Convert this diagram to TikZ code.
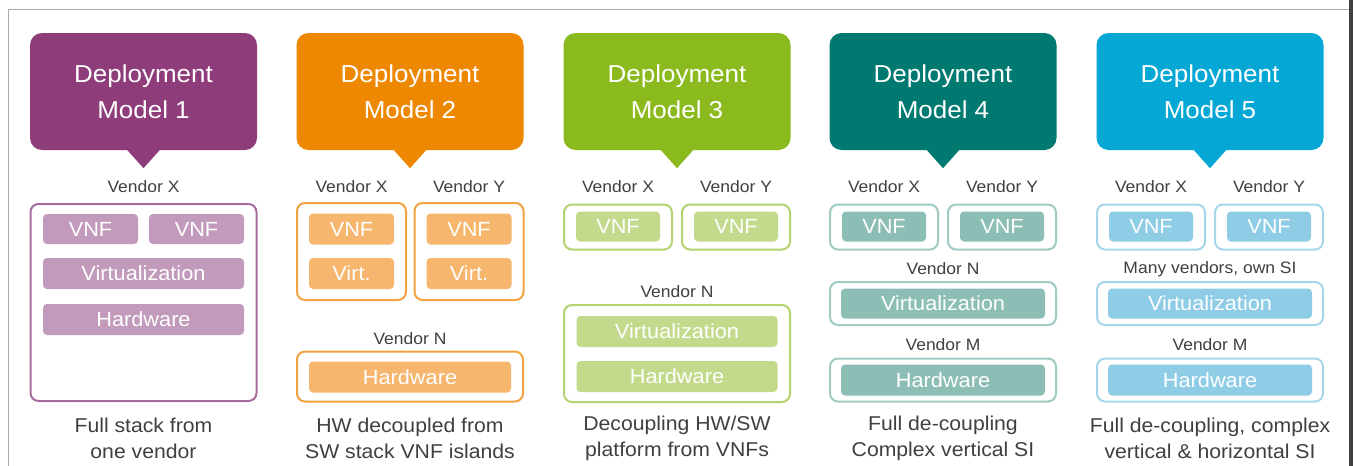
\documentclass[tikz,border=0pt]{standalone}
\usepackage{fontspec}
\setmainfont{Liberation Sans}[FakeStretch=1.06]
\usepackage{tikz}
\usepackage{xcolor}
\definecolor{labelgrey}{RGB}{64,64,64}
\definecolor{framegrey}{RGB}{170,170,170}
\definecolor{mOneDark}{RGB}{142,61,122}
\definecolor{mOneLight}{RGB}{194,155,188}
\definecolor{mOneLine}{RGB}{168,108,156}
\definecolor{mTwoDark}{RGB}{238,136,0}
\definecolor{mTwoLight}{RGB}{246,182,110}
\definecolor{mTwoLine}{RGB}{242,162,64}
\definecolor{mThreeDark}{RGB}{139,186,30}
\definecolor{mThreeLight}{RGB}{195,218,140}
\definecolor{mThreeLine}{RGB}{180,210,112}
\definecolor{mFourDark}{RGB}{0,122,113}
\definecolor{mFourLight}{RGB}{140,190,182}
\definecolor{mFourLine}{RGB}{158,202,196}
\definecolor{mFiveDark}{RGB}{5,168,212}
\definecolor{mFiveLight}{RGB}{143,204,230}
\definecolor{mFiveLine}{RGB}{165,214,236}

\tikzset{
  hdr/.style={fill=#1, rounded corners=12pt, inner sep=0pt, minimum width=227pt, minimum height=117pt,
    text=white, align=center, font=\fontsize{24.5}{36}\selectfont},
  stack/.style={draw=#1, line width=2pt, rounded corners=8pt, fill=white, inner sep=0pt},
  layer/.style={fill=#1, rounded corners=4pt, inner sep=0pt, text=white, font=\fontsize{20.5}{22}\selectfont},
  vendor/.style={text=labelgrey, inner sep=0pt, font=\fontsize{16.5}{20}\selectfont},
  caption/.style={text=labelgrey, align=center, inner sep=0pt, font=\fontsize{20}{26}\selectfont},
}

\begin{document}
\begin{tikzpicture}[x=1pt, y=-1pt]
  \fill[white] (0,0) rectangle (1353,466);
  \useasboundingbox (0,0) rectangle (1353,466);
  \draw[framegrey, line width=1pt] (8,466) -- (8,9) -- (1349,9);
  \fill[black!75] (1349,0) rectangle (1353,466);

  % model 1
  \node[hdr=mOneDark] (hdr1) at (143.5,91.5) {Deployment\\Model 1};
  \fill[mOneDark] ([xshift=-17pt,yshift=1pt]hdr1.south) -- ([yshift=-18pt]hdr1.south) -- ([xshift=17pt,yshift=1pt]hdr1.south) -- cycle;
  \node[vendor] (v1x) at (143.5,187) {Vendor X};
  \node[stack=mOneLine, minimum width=226pt, minimum height=197pt] (box1) at (143.5,302.5) {};
  \node[layer=mOneLight, minimum width=95pt, minimum height=30pt] (vnf1a) at (90.5,229) {VNF};
  \node[layer=mOneLight, minimum width=95pt, minimum height=30pt] (vnf1b) at (196.5,229) {VNF};
  \node[layer=mOneLight, minimum width=201pt, minimum height=31pt] (virt1) at (143.5,273.5) {Virtualization};
  \node[layer=mOneLight, minimum width=201pt, minimum height=31pt] (hw1) at (143.5,319.5) {Hardware};
  \node[caption] (cap1) at (143.5,438) {Full stack from\\one vendor};

  % model 2
  \node[hdr=mTwoDark] (hdr2) at (410,91.5) {Deployment\\Model 2};
  \fill[mTwoDark] ([xshift=-17pt,yshift=1pt]hdr2.south) -- ([yshift=-18pt]hdr2.south) -- ([xshift=17pt,yshift=1pt]hdr2.south) -- cycle;
  \node[vendor] (v2x) at (351.5,187) {Vendor X};
  \node[vendor] (v2y) at (469,187) {Vendor Y};
  \node[stack=mTwoLine, minimum width=109pt, minimum height=97pt] (box2a) at (351.5,251.5) {};
  \node[stack=mTwoLine, minimum width=109pt, minimum height=97pt] (box2b) at (469,251.5) {};
  \node[layer=mTwoLight, minimum width=85pt, minimum height=31pt] (vnf2a) at (351.5,229) {VNF};
  \node[layer=mTwoLight, minimum width=85pt, minimum height=31pt] (virt2a) at (351.5,273.5) {Virt.};
  \node[layer=mTwoLight, minimum width=85pt, minimum height=31pt] (vnf2b) at (469,229) {VNF};
  \node[layer=mTwoLight, minimum width=85pt, minimum height=31pt] (virt2b) at (469,273.5) {Virt.};
  \node[vendor] (v2n) at (410,339) {Vendor N};
  \node[stack=mTwoLine, minimum width=226pt, minimum height=50pt] (box2n) at (410,376.5) {};
  \node[layer=mTwoLight, minimum width=202pt, minimum height=31pt] (hw2) at (410,377) {Hardware};
  \node[caption] (cap2) at (410,438) {HW decoupled from\\SW stack VNF islands};

  % model 3
  \node[hdr=mThreeDark] (hdr3) at (677,91.5) {Deployment\\Model 3};
  \fill[mThreeDark] ([xshift=-17pt,yshift=1pt]hdr3.south) -- ([yshift=-18pt]hdr3.south) -- ([xshift=17pt,yshift=1pt]hdr3.south) -- cycle;
  \node[vendor] (v3x) at (618,187) {Vendor X};
  \node[vendor] (v3y) at (736,187) {Vendor Y};
  \node[stack=mThreeLine, minimum width=108pt, minimum height=45pt] (box3a) at (618,227) {};
  \node[stack=mThreeLine, minimum width=108pt, minimum height=45pt] (box3b) at (736,227) {};
  \node[layer=mThreeLight, minimum width=84pt, minimum height=30pt] (vnf3a) at (618,226.5) {VNF};
  \node[layer=mThreeLight, minimum width=84pt, minimum height=30pt] (vnf3b) at (736,226.5) {VNF};
  \node[vendor] (v3n) at (677,292) {Vendor N};
  \node[stack=mThreeLine, minimum width=226pt, minimum height=97pt] (box3n) at (677,353.5) {};
  \node[layer=mThreeLight, minimum width=201pt, minimum height=31pt] (virt3) at (677,331.5) {Virtualization};
  \node[layer=mThreeLight, minimum width=201pt, minimum height=31pt] (hw3) at (677,376.5) {Hardware};
  \node[caption] (cap3) at (677,438) {Decoupling HW/SW\\platform from VNFs};

  % model 4
  \node[hdr=mFourDark] (hdr4) at (943,91.5) {Deployment\\Model 4};
  \fill[mFourDark] ([xshift=-17pt,yshift=1pt]hdr4.south) -- ([yshift=-18pt]hdr4.south) -- ([xshift=17pt,yshift=1pt]hdr4.south) -- cycle;
  \node[vendor] (v4x) at (884,187) {Vendor X};
  \node[vendor] (v4y) at (1002,187) {Vendor Y};
  \node[stack=mFourLine, minimum width=108pt, minimum height=45pt] (box4a) at (884,227) {};
  \node[stack=mFourLine, minimum width=108pt, minimum height=45pt] (box4b) at (1002,227) {};
  \node[layer=mFourLight, minimum width=84pt, minimum height=30pt] (vnf4a) at (884,226.5) {VNF};
  \node[layer=mFourLight, minimum width=84pt, minimum height=30pt] (vnf4b) at (1002,226.5) {VNF};
  \node[vendor] (v4n) at (943,269) {Vendor N};
  \node[stack=mFourLine, minimum width=226pt, minimum height=43pt] (box4n) at (943,303.5) {};
  \node[layer=mFourLight, minimum width=204pt, minimum height=30pt] (virt4) at (943,303.5) {Virtualization};
  \node[vendor] (v4m) at (943,345) {Vendor M};
  \node[stack=mFourLine, minimum width=226pt, minimum height=43pt] (box4m) at (943,380) {};
  \node[layer=mFourLight, minimum width=204pt, minimum height=31pt] (hw4) at (943,380) {Hardware};
  \node[caption] (cap4) at (943,438) {Full de-coupling\\Complex vertical SI};

  % model 5
  \node[hdr=mFiveDark] (hdr5) at (1210,91.5) {Deployment\\Model 5};
  \fill[mFiveDark] ([xshift=-17pt,yshift=1pt]hdr5.south) -- ([yshift=-18pt]hdr5.south) -- ([xshift=17pt,yshift=1pt]hdr5.south) -- cycle;
  \node[vendor] (v5x) at (1151,187) {Vendor X};
  \node[vendor] (v5y) at (1269,187) {Vendor Y};
  \node[stack=mFiveLine, minimum width=108pt, minimum height=45pt] (box5a) at (1151,227) {};
  \node[stack=mFiveLine, minimum width=108pt, minimum height=45pt] (box5b) at (1269,227) {};
  \node[layer=mFiveLight, minimum width=84pt, minimum height=30pt] (vnf5a) at (1151,226.5) {VNF};
  \node[layer=mFiveLight, minimum width=84pt, minimum height=30pt] (vnf5b) at (1269,226.5) {VNF};
  \node[vendor] (v5n) at (1210,269) {Many vendors, own SI};
  \node[stack=mFiveLine, minimum width=226pt, minimum height=43pt] (box5n) at (1210,303.5) {};
  \node[layer=mFiveLight, minimum width=204pt, minimum height=30pt] (virt5) at (1210,303.5) {Virtualization};
  \node[vendor] (v5m) at (1210,345) {Vendor M};
  \node[stack=mFiveLine, minimum width=226pt, minimum height=43pt] (box5m) at (1210,380) {};
  \node[layer=mFiveLight, minimum width=204pt, minimum height=31pt] (hw5) at (1210,380) {Hardware};
  \node[caption] (cap5) at (1210,438) {Full de-coupling, complex\\vertical \& horizontal SI};
\end{tikzpicture}
\end{document}
